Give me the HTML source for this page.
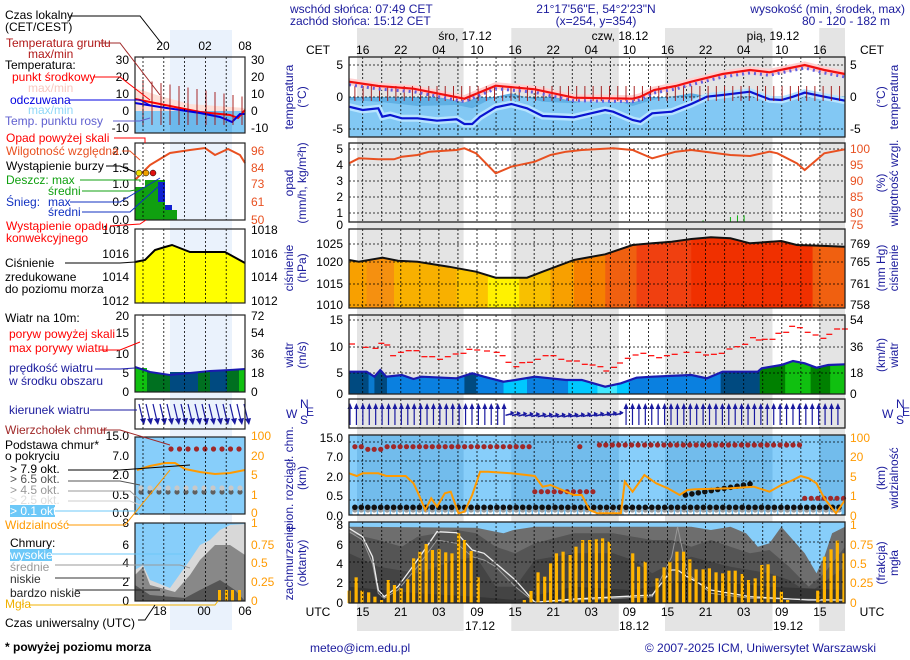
<!DOCTYPE html>
<html><head><meta charset="utf-8">
<style>
html,body{margin:0;padding:0;background:#fff;width:910px;height:660px;overflow:hidden}
svg text{font-family:"Liberation Sans",sans-serif;font-size:12px}
</style></head>
<body>
<svg id="s" width="910" height="660" xmlns="http://www.w3.org/2000/svg"></svg>
<script>
var o=[];
function X(zx){return 349+(zx-125)*0.3912;}
function P(a,yo,sc){sc=sc||3;var r=[];for(var i=0;i<a.length;i+=2)r.push(X(a[i]).toFixed(1)+","+(yo+a[i+1]/sc).toFixed(1));return r.join(" ");}
function T(x,y,s,fill,anchor,extra){o.push('<text x="'+x+'" y="'+y+'" fill="'+(fill||"#000")+'" text-anchor="'+(anchor||"start")+'" '+(extra||"")+'>'+s+'</text>');}
function R(x,y,w,h,f,extra){o.push('<rect x="'+x+'" y="'+y+'" width="'+w+'" height="'+h+'" fill="'+f+'" '+(extra||"")+'/>');}
function L(x1,y1,x2,y2,c,extra){o.push('<line x1="'+x1+'" y1="'+y1+'" x2="'+x2+'" y2="'+y2+'" stroke="'+c+'" '+(extra||"")+'/>');}
var NV="#1a1a9c";
[[357,463.6],[511.3,618.8],[665,772.5],[819.2,845]].forEach(function(b){R(b[0],28,b[1]-b[0],603,"#e4e4e4");});
R(170,30,62,600,"#eaf2fc");
T(290,13,"wschód słońca: 07:49 CET",NV);T(290,25,"zachód słońca: 15:12 CET",NV);
T(596,13,"21°17'56\"E, 54°2'23\"N",NV,"middle");T(596,25,"(x=254, y=354)",NV,"middle");
T(905,13,"wysokość (min, środek, max)",NV,"end");T(846,25,"80 - 120 - 182 m",NV,"middle");
T(465,40,"śro, 17.12","#000","middle");T(620,40,"czw, 18.12","#000","middle");T(773,40,"pią, 19.12","#000","middle");
var hrs=["16","22","04","10","16","22","04","10","16","22","04","10","16"];
hrs.forEach(function(h,i){T(362.7+i*38.1,54,h,"#000","middle");});
T(318,54,"CET","#000","middle");T(872,54,"CET","#000","middle");
var uh=["15","21","03","09","15","21","03","09","15","21","03","09","15"];
uh.forEach(function(h,i){T(362.7+i*38.1,616,h,"#000","middle");});
T(318,616,"UTC","#000","middle");T(872,616,"UTC","#000","middle");
T(480,630,"17.12","#000","middle");T(634,630,"18.12","#000","middle");T(788,630,"19.12","#000","middle");
var panels=[[57,137],[143,222],[229,308],[315,394],[399,428],[435,515],[522,603]];
R(349,97,496,40,"#82c8f4");
o.push('<polygon points="349,97 '+P([125,300,200,305,300,318,400,315,440,325,500,290,540,280,620,305,700,310,780,290,850,318,900,300,1000,280,1040,289,1393,289],0)+' 845,97" fill="#60b0e4"/>');
var pc=[[125,170,"#f8a000"],[170,240,"#f59010"],[240,400,"#f8b000"],[400,480,"#fcc400"],[480,560,"#fff200"],[560,640,"#f8c000"],[640,700,"#f8a000"],[700,780,"#f58000"],[780,860,"#f06010"],[860,1000,"#f04010"],[1000,1310,"#f03000"],[1310,1393,"#f06010"]];
o.push('<clipPath id="pc"><polygon points="'+P([125,105,150,110,210,98,250,107,300,110,380,125,450,140,500,158,580,158,620,140,700,105,780,88,850,60,900,55,950,50,1000,42,1050,37,1100,40,1150,55,1230,48,1270,60,1330,62,1393,65],225)+' 845,308 349,308"/></clipPath>');
o.push('<g clip-path="url(#pc)">');pc.forEach(function(c){R(X(c[0]),229,X(c[1])-X(c[0])+0.5,80,c[2]);});o.push('</g>');
var wl=[125,440,170,440,190,455,205,435,220,455,260,450,290,462,310,455,400,460,440,445,470,455,520,470,550,465,600,455,680,465,720,465,780,485,820,475,860,458,900,455,1000,450,1040,460,1060,450,1080,440,1170,440,1180,430,1230,420,1260,408,1290,415,1320,428,1350,420,1393,418];
o.push('<clipPath id="wc"><polygon points="'+P(wl,225)+' 845,394 349,394"/></clipPath>');
var wcol=[[125,175,"#004a80"],[175,190,"#0a7ad0"],[190,222,"#004a80"],[222,420,"#0a80e0"],[420,450,"#004a80"],[450,520,"#0a80e0"],[520,580,"#00c8ff"],[580,685,"#0a80e0"],[685,760,"#00c8ff"],[760,810,"#40e8ff"],[810,840,"#00c8ff"],[840,1075,"#0a80e0"],[1075,1175,"#004a80"],[1175,1240,"#008000"],[1240,1305,"#10c010"],[1305,1355,"#008000"],[1355,1393,"#10c010"]];
o.push('<g clip-path="url(#wc)">');wcol.forEach(function(c){R(X(c[0]),315,X(c[1])-X(c[0])+0.5,80,c[2]);});o.push('</g>');
[[349,357],[463.6,511.3],[618.8,665],[772.5,819.2]].forEach(function(b){R(b[0],399,b[1]-b[0],29,"#fff");});
R(349,435,496,80,"#87cefa");
[[357,463.6],[511.3,618.8],[665,772.5],[819.2,845]].forEach(function(b){R(b[0],435,b[1]-b[0],80,"#72bcec");});
R(349,522,496,81,"#87cefa");
var layers=[["#6e6e6e",[125,380,300,382,450,383,500,395,520,400,545,390,600,380,1000,380,1050,390,1100,380,1140,400,1170,440,1200,430,1230,380,1260,420,1290,460,1320,520,1340,470,1360,400,1393,380]],
["#555555",[125,400,200,420,260,440,300,410,400,390,450,400,500,440,550,460,600,430,700,400,800,400,900,420,950,420,1000,440,1050,420,1100,440,1150,460,1200,450,1250,500,1300,560,1340,520,1393,440]],
["#444444",[125,460,200,500,300,520,400,480,450,470,500,560,550,560,600,480,700,460,800,460,850,480,900,520,950,490,1000,470,1100,500,1200,520,1250,540,1300,580,1393,500]],
["#353535",[125,560,300,580,450,590,550,600,700,560,850,570,1000,540,1200,560,1393,570]]];
layers.forEach(function(l){o.push('<polygon points="349,603 '+P(l[1],400)+' 845,603" fill="'+l[0]+'"/>');});
o.push('<polyline points="'+P([125,395,160,420,185,490,200,580,215,595,250,570,300,500,350,420,400,430,440,470,470,480,500,500,550,560,600,607,700,600,900,590,950,470,965,380,990,520,1050,580,1150,595,1393,600],400)+'" fill="none" stroke="#999" stroke-width="1"/>');
o.push('<polyline points="'+P([125,385,160,410,185,470,200,570,215,590,250,560,300,480,350,395,400,398,440,450,470,460,500,490,550,540,600,607,700,597,900,585,950,510,965,510,990,530,1050,570,1150,590,1300,600,1393,600],400)+'" fill="none" stroke="#eee" stroke-width="1.3"/>');
var fb=[125,572,143,532,158,572,175,577,191,590,208,600,225,540,241,555,258,565,275,538,290,475,306,455,322,432,338,450,355,448,372,457,388,460,405,400,420,420,437,453,455,532,573,600,590,573,608,517,625,530,640,490,655,460,672,455,690,465,705,440,722,420,740,420,757,418,773,415,790,425,850,460,865,500,882,485,912,535,930,502,945,485,963,455,980,455,996,478,1012,508,1030,508,1046,505,1063,517,1080,520,1096,512,1112,512,1130,522,1146,540,1163,535,1180,495,1196,493,1212,527,1230,575,1246,600,1323,572,1340,470,1357,448,1373,422,1390,460];
for(var i=0;i<fb.length;i+=2){var x=X(fb[i]),y=400+fb[i+1]/3;R(x-1.5,y,3.2,603-y,"#ffb400");}
panels.forEach(function(p,pi){for(var k=0;k<25;k++){var x=362.7+k*19.05;L(x,p[0],x,p[1],"#000",'stroke-dasharray="2,2" stroke-width="0.8"');}});
var hg=[[65,97,129],[149,165,181,197,213],[244,262,284,305],[320,347,373],[],[442,461,481,500],[542,562,582]];
hg.forEach(function(a){a.forEach(function(y){L(349,y,845,y,"#000",'stroke-dasharray="2,2" stroke-width="0.8"');});});
var red=[125,245,200,258,290,266,420,296,500,257,600,268,700,293,850,296,870,290,905,270,960,258,1000,245,1080,222,1150,210,1200,217,1240,207,1290,195,1340,210,1393,222];
var blue=[125,320,160,330,200,325,210,350,230,345,260,355,300,355,350,362,400,358,420,372,440,372,460,350,500,322,540,312,580,325,620,348,700,352,780,330,800,335,850,360,870,365,900,340,950,335,1000,312,1040,290,1080,285,1150,275,1200,298,1230,300,1260,290,1290,278,1340,290,1393,302];
o.push('<polyline points="'+P(blue,0)+'" fill="none" stroke="#b8e4ff" stroke-width="7"/>');
o.push('<polyline points="'+P(blue,0)+'" fill="none" stroke="#0a14d0" stroke-width="2.2"/>');
o.push('<polyline points="'+P(red,0)+'" fill="none" stroke="#ffd0d0" stroke-width="7"/>');
for(var k=0;k<60;k++){var zx=140+k*21;if(zx>1390)break;var x=X(zx);L(x.toFixed(1),86,x.toFixed(1),101,"#a01010",'stroke-width="0.9"');}
o.push('<polyline points="'+P(red,3)+'" fill="none" stroke="#6060e0" stroke-width="3" stroke-dasharray="2,4"/>');
o.push('<polyline points="'+P(red,0)+'" fill="none" stroke="#f01010" stroke-width="2.2"/>');
o.push('<polyline points="'+P([125,490,150,475,200,478,240,478,260,470,300,465,330,455,400,450,420,445,450,460,500,520,540,500,600,485,640,465,680,455,720,450,800,445,850,450,880,465,900,475,960,455,1000,450,1100,465,1150,468,1200,455,1220,460,1270,490,1290,510,1340,460,1393,448],0)+'" fill="none" stroke="#e85020" stroke-width="2"/>');
[[1030,660],[1100,650],[1118,645],[1135,645]].forEach(function(p){L(X(p[0]),222,X(p[0]),222-(665-p[1])/3,"#10b010",'stroke-width="1"');});
o.push('<polyline points="'+P([125,105,150,110,210,98,250,107,300,110,380,125,450,140,500,158,580,158,620,140,700,105,780,88,850,60,900,55,950,50,1000,42,1050,37,1100,40,1150,55,1230,48,1270,60,1330,62,1393,65],225)+'" fill="none" stroke="#111" stroke-width="2"/>');
o.push('<polyline points="'+P(wl,225)+'" fill="none" stroke="#1a1ab0" stroke-width="2.2"/>');
var gs=[125,357,160,367,185,370,200,355,215,360,230,392,250,382,270,377,290,377,310,395,330,395,350,403,370,395,390,387,410,385,425,373,445,375,470,378,495,382,510,392,525,412,545,425,560,413,580,412,600,403,620,392,640,392,660,403,680,408,700,408,720,418,740,420,760,425,775,438,795,427,810,414,830,400,850,390,870,385,890,392,910,398,930,392,950,388,980,382,1010,382,1030,390,1050,388,1070,385,1090,372,1110,365,1130,358,1150,338,1165,345,1180,343,1200,343,1215,325,1235,322,1250,304,1270,308,1290,322,1310,330,1330,340,1345,328,1365,312,1385,312];
for(var i=0;i<gs.length;i+=2){var x=X(gs[i]),y=225+gs[i+1]/3;L(x.toFixed(1),y.toFixed(1),(x+6).toFixed(1),y.toFixed(1),"#f00",'stroke-width="1.2"');}
for(var k=0;k<78;k++){var x=350+k*6.42;if(x>844)break;
 if(x>505&&x<620){var yy=414+Math.sin((x-505)/115*Math.PI)*2;L(x-5,yy+1,x+3,yy-1,"#1a1aa0",'stroke-width="1.5"');o.push('<polygon points="'+(x+4)+','+(yy-1.5)+' '+(x)+','+(yy-3.5)+' '+x+','+(yy+1.5)+'" fill="#1a1aa0"/>');}
 else{L(x,425,x,406,"#1a1aa0",'stroke-width="1.2"');o.push('<polygon points="'+x+',403 '+(x-2.5)+',409 '+(x+2.5)+',409" fill="#1a1aa0"/>');}}
function dot(zx,zy,c,r){o.push('<circle cx="'+X(zx).toFixed(1)+'" cy="'+(400+zy/3).toFixed(1)+'" r="'+(r||2.6)+'" fill="'+c+'"/>');}
for(var zx=140;zx<=595;zx+=16.5){dot(zx,140+(zx>170&&zx<220?8:0),"#a02828");}
dot(715,140,"#a02828");
for(var zx=765;zx<=1280;zx+=16.5){dot(zx,135,"#a02828");}
for(var zx=600;zx<=750;zx+=16.5){dot(zx,275,"#a02828");}
for(var zx=1290;zx<=1393;zx+=16.5){dot(zx,295,"#a02828");}
for(var zx=140;zx<=1393;zx+=16.5){dot(zx,338,"#ffffff",2.6);dot(zx,330,"#9a9a9a",2.6);dot(zx,322,"#111",2.8);}
for(var zx=985;zx<=1160;zx+=16.5){dot(zx,285-(zx-985)*0.2,"#111",2.8);}
o.push('<polyline points="'+P([125,220,145,228,160,220,200,220,220,228,270,228,290,250,300,275,320,330,335,295,350,320,370,280,385,275,405,340,420,335,440,285,460,215,480,215,540,220,600,228,620,260,640,255,700,285,720,285,740,330,760,340,820,340,830,245,850,275,880,225,910,250,940,265,970,285,990,270,1010,268,1100,265,1160,260,1200,275,1230,255,1260,240,1280,228,1300,235,1320,250,1340,295,1370,340,1393,300],400)+'" fill="none" stroke="#ff9a00" stroke-width="2"/>');
panels.forEach(function(p){R(349,p[0],496,p[1]-p[0],"none",'stroke="#222" stroke-width="1.3"');});
function ticks(arr,lc,rc){arr.forEach(function(t){if(t[1]!=null)T(343,t[0],t[1],lc||"#000","end");if(t[2]!=null)T(850,t[0],t[2],rc||"#000","start");});}
ticks([[69,"5","5"],[101,"0","0"],[133,"-5","-5"]]);
ticks([[153,"5","100"],[169,"4","95"],[185,"3","90"],[201,"2","85"],[217,"1","80"],[229,"0","75"]],"#000","#e85020");
ticks([[248,"1025","769"],[266,"1020","765"],[288,"1015","761"],[309,"1010","758"]]);
ticks([[324,"15","54"],[351,"10","36"],[377,"5","18"],[398,"0","0"]]);
ticks([[442,"15.0","100"],[461,"7.0","20"],[481,"2.0","5"],[500,"0.5","1"],[520,"0.0","0"]],"#000","#ff9a00");
ticks([[529,"8","1"],[549,"6","0.75"],[568,"4","0.5"],[587,"2","0.25"],[607,"0","0"]],"#000","#ff9a00");
function RT(x,y,lines){var s='<text transform="translate('+x+','+y+') rotate(-90)" fill="'+NV+'" text-anchor="middle">';lines.forEach(function(l,i){s+='<tspan x="0" dy="'+(i?13:0)+'">'+l+'</tspan>';});o.push(s+'</text>');}
RT(293,97,["temperatura","(°C)"]);RT(885,97,["(°C)","temperatura"]);
RT(293,183,["opad","(mm/h, kg/m²h)"]);RT(885,183,["(%)","wilgotność wzgl."]);
RT(293,268,["ciśnienie","(hPa)"]);RT(885,268,["(mm Hg)","ciśnienie"]);
RT(293,355,["wiatr","(m/s)"]);RT(885,355,["(km/h)","wiatr"]);
RT(293,478,["pion. rozciągł. chm.","(km)"]);RT(885,478,["(km)","widzialność"]);
RT(293,563,["zachmurzenie","(oktanty)"]);RT(885,563,["(frakcja)","mgła"]);
T(286,418,"W","#1a1aa0","start",'font-size="16"');T(882,418,"W","#1a1aa0","start",'font-size="16"');
T(300,408,"N","#1a1aa0","start",'font-size="10"');T(300,424,"S","#1a1aa0","start",'font-size="10"');T(306,416,"E","#1a1aa0","start",'font-size="10"');
T(896,408,"N","#1a1aa0","start",'font-size="10"');T(896,424,"S","#1a1aa0","start",'font-size="10"');T(902,416,"E","#1a1aa0","start",'font-size="10"');
var mp=[[57,133],[143,220],[229,303],[315,392],[399,429],[437,514],[523,601]];
R(135,111,110,22,"#82c8f4");R(170,111,62,22,"#6cb8ec");
o.push('<polygon points="135,88 160,96 190,104 245,108 245,111 135,111" fill="#fde0d8"/>');
o.push('<polyline points="135,99 160,104 180,108 200,112 230,115 238,118 245,110" fill="none" stroke="#f00" stroke-width="2"/>');
o.push('<polyline points="135,103 160,107 180,110 200,113 220,117 232,122 240,114 245,114" fill="none" stroke="#0000e0" stroke-width="2"/>');
for(var k=0;k<12;k++){var x=143+k*9;L(x,80+k*1.5,x,125,"#a01010",'stroke-width="0.9"');}
R(135,187,30,33,"#10a010");R(145,180,20,40,"#10a010");R(158,182,7,20,"#1020d0");R(165,205,7,15,"#1020d0");R(165,210,12,10,"#10a010");
o.push('<polyline points="135,180 150,165 170,153 190,150 205,148 215,155 228,149 240,155 245,163" fill="none" stroke="#e85020" stroke-width="2"/>');
[[139,"#f0e000"],[146,"#f0a000"],[153,"#e01010"]].forEach(function(c){o.push('<circle cx="'+c[0]+'" cy="173" r="3" fill="'+c[1]+'" stroke="#000" stroke-width="0.5"/>');});
o.push('<polygon points="135,262 145,260 155,250 165,247 172,245 190,252 225,252 245,263 245,303 135,303" fill="#ffff00"/>');
o.push('<polyline points="135,262 145,260 155,250 165,247 172,245 190,252 225,252 245,263" fill="none" stroke="#000" stroke-width="2"/>');
o.push('<polygon points="135,367 150,372 170,375 190,373 210,371 230,370 245,369 245,392 135,392" fill="#007020"/>');
R(170,372,28,20,"#004a80");R(210,370,17,22,"#004a80");R(135,368,12,24,"#10c010");R(239,369,6,23,"#10c010");
o.push('<polyline points="135,367 150,372 170,375 190,373 210,371 230,370 245,369" fill="none" stroke="#1a1ab0" stroke-width="2"/>');
for(var k=0;k<16;k++){var x=139+k*7;L(x,404,x+4,421,"#1a1aa0",'stroke-width="1.2"');o.push('<polygon points="'+(x+5)+',425 '+(x+1)+',419 '+(x+7)+',418" fill="#1a1aa0"/>');}
R(135,437,110,77,"#87cefa");
for(var k=0;k<9;k++){o.push('<circle cx="'+(171+k*8.5)+'" cy="449" r="2.6" fill="#a02828"/>');}
o.push('<polyline points="137,470 150,466 165,463 175,463 185,469 200,472 215,474 230,473 245,470" fill="none" stroke="#ff9a00" stroke-width="2"/>');
for(var k=0;k<12;k++){o.push('<circle cx="'+(141+k*9)+'" cy="492" r="2.6" fill="#606060"/><circle cx="'+(141+k*9)+'" cy="488" r="2.6" fill="#c8c8c8"/>');}
R(135,523,110,78,"#87cefa");
o.push('<polygon points="135,601 135,570 143,565 150,580 170,588 190,560 200,545 210,540 220,530 230,525 245,524 245,601" fill="#d8d8d8"/>');
o.push('<polygon points="135,601 135,575 143,567 150,585 175,592 190,575 200,560 215,545 230,545 245,555 245,601" fill="#888"/>');
o.push('<polygon points="135,601 135,585 150,595 185,598 200,590 220,580 235,590 245,601" fill="#555"/>');
[218,225,231,238].forEach(function(x){R(x,590,3,11,"#ffb400");});
mp.forEach(function(p){for(var k=0;k<5;k++){var x=143+k*20.8;L(x,p[0],x,p[1],"#000",'stroke-dasharray="2,2" stroke-width="0.8"');}R(135,p[0],110,p[1]-p[0],"none",'stroke="#222" stroke-width="1.2"');});
T(163,50,"20","#000","middle");T(205,50,"02","#000","middle");T(245,50,"08","#000","middle");
T(160,615,"18","#000","middle");T(204,615,"00","#000","middle");T(245,615,"06","#000","middle");
function lt(arr,rc){arr.forEach(function(t){T(129,t[0],t[1],"#000","end");T(251,t[0],t[2],rc||"#000","start");});}
lt([[64,"30","30"],[81,"20","20"],[98,"10","10"],[115,"0","0"],[132,"-10","-10"]]);
lt([[155,"2.0","96"],[172,"1.5","84"],[188,"1.0","73"],[206,"0.5","61"],[224,"0.0","50"]],"#e85020");
lt([[234,"1018","1018"],[258,"1016","1016"],[281,"1014","1014"],[305,"1012","1012"]]);
lt([[320,"20","72"],[337,"15","54"],[358,"10","36"],[377,"5","18"],[396,"0","0"]]);
lt([[440,"15.0","100"],[460,"7.0","20"],[479,"2.0","5"],[499,"0.5","1"],[517,"0.0","0"]],"#ff9a00");
lt([[527,"8","1"],[549,"6","0.75"],[567,"4","0.5"],[586,"2","0.25"],[605,"0","0"]],"#ff9a00");
T(5,19,"Czas lokalny");T(5,31,"(CET/CEST)");
T(6,47,"Temperatura gruntu","#b01818");T(28,58,"max/min","#b01818");
T(5,69,"Temperatura:");T(12,81,"punkt środkowy","#f00");T(28,92,"max/min","#f8c8c0");
T(10,104,"odczuwana","#0000e0");T(28,114,"max/min","#90d8f8");T(5,125,"Temp. punktu rosy","#6060d0");
T(6,142,"Opad powyżej skali","#f00");T(6,155,"Wilgotność względna","#e85020");T(6,170,"Wystąpienie burzy");
T(6,184,"Deszcz: max","#10a010");T(48,195,"średni","#10a010");T(6,206,"Śnieg:","#1030c0");T(48,206,"max","#1030c0");T(48,216,"średni","#1030c0");
T(6,230,"Wystąpienie opadu","#f00");T(6,242,"konwekcyjnego","#f00");
T(5,267,"Ciśnienie");T(5,281,"zredukowane");T(5,293,"do poziomu morza");
T(5,322,"Wiatr na 10m:");T(9,338,"poryw powyżej skali","#f00");T(9,352,"max porywy wiatru","#f00");T(9,372,"prędkość wiatru",NV);T(9,385,"w środku obszaru",NV);
T(9,414,"kierunek wiatru",NV);T(5,434,"Wierzchołek chmur","#a02828");
T(5,449,"Podstawa chmur*");T(5,460,"o pokryciu");T(10,473,"&gt; 7.9 okt.");T(10,483,"&gt; 6.5 okt.","#555");T(10,494,"&gt; 4.5 okt.","#999");T(10,504,"&gt; 2.5 okt.","#ddd");
R(10,505,45,12,"#6cc8f8");T(10,515,"&gt; 0.1 okt.","#fff");
T(5,529,"Widzialność","#ff9a00");T(10,547,"Chmury:");R(10,549,42,12,"#6cc8f8");T(10,559,"wysokie","#fff");T(10,571,"średnie","#999");T(10,583,"niskie","#333");T(10,597,"bardzo niskie","#222");T(5,608,"Mgła","#f0b000");
T(5,627,"Czas uniwersalny (UTC)");
T(5,651,"* powyżej poziomu morza","#000","start",'font-size="9" font-weight="bold"');
var ll=[[70,16,140,16,162,44,"#000"],[100,43,120,43,160,95,"#a02828"],[93,77,120,77,150,100,"#f00"],[70,100,140,100,150,105,"#0000e0"],[113,121,140,121,150,118,"#6060d0"],[114,138,145,138,145,143,"#f00"],[122,151,130,151,140,160,"#e85020"],[106,166,120,166,135,172,"#000"],[80,180,140,180,140,182,"#10a010"],[82,191,130,191,145,188,"#10a010"],[70,202,120,202,160,178,"#1030c0"],[82,212,130,212,160,185,"#1030c0"],[110,226,140,224,146,220,"#f00"],[65,263,120,263,135,262,"#000"],[100,350,120,350,140,342,"#f00"],[95,369,120,369,135,368,"#1a1ab0"],[90,410,120,410,137,410,"#1a1aa0"],[100,430,120,430,170,445,"#a02828"],[68,470,120,470,190,465,"#000"],[68,481,120,481,140,485,"#555"],[68,491,130,491,140,500,"#999"],[68,501,130,501,140,505,"#ccc"],[55,511,135,511,140,515,"#6cc8f8"],[67,525,125,525,170,470,"#ff9a00"],[52,554,180,554,188,554,"#6cc8f8"],[55,565,180,565,190,568,"#999"],[55,578,125,578,130,578,"#333"],[75,590,130,590,160,590,"#222"],[30,605,215,605,218,601,"#f0b000"],[138,620,145,620,155,605,"#000"]];
ll.forEach(function(l){o.push('<polyline points="'+l[0]+','+l[1]+' '+l[2]+','+l[3]+' '+l[4]+','+l[5]+'" fill="none" stroke="'+l[6]+'" stroke-width="1"/>');});
T(310,652,"meteo@icm.edu.pl",NV);T(876,652,"© 2007-2025 ICM, Uniwersytet Warszawski",NV,"end");
document.getElementById("s").innerHTML=o.join("");
</script>
</body></html>
